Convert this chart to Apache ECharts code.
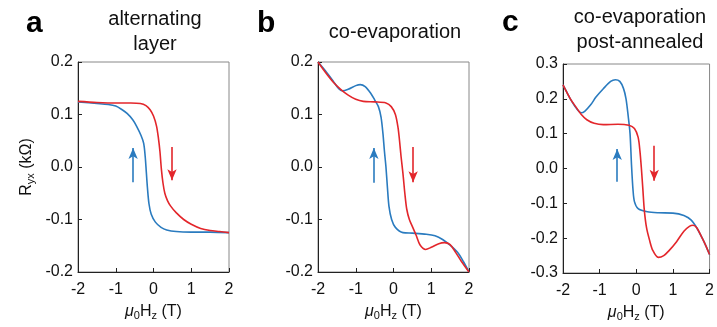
<!DOCTYPE html>
<html><head><meta charset="utf-8">
<script src="https://cdn.jsdelivr.net/npm/echarts@6/dist/echarts.min.js"></script>
<style>html,body{margin:0;padding:0;background:#fff}#c{width:717px;height:327px}</style>
</head><body><div id="c"></div>
<script>
// ---- data ----
const panelLetters = ['a', 'b', 'c'];
const panelTitles = ['alternating\nlayer', 'co-evaporation', 'co-evaporation\npost-annealed'];
const xTicks = [-2, -1, 0, 1, 2];
const yRanges = [[-0.2, 0.2], [-0.2, 0.2], [-0.3, 0.3]];

const aBlue = [[-2,0.124],[-1.5,0.121],[-1.2,0.119],[-1.0,0.116],[-0.85,0.11],[-0.7,0.102],[-0.55,0.09],[-0.45,0.078],[-0.33,0.06],[-0.26,0.045],[-0.22,0.02],[-0.19,-0.01],[-0.16,-0.04],[-0.12,-0.07],[-0.06,-0.09],[0.05,-0.105],[0.2,-0.115],[0.35,-0.12],[0.6,-0.123],[1.0,-0.124],[1.5,-0.124],[2.0,-0.125]];
const aRed = [[-2,0.125],[-1.5,0.123],[-1.0,0.122],[-0.6,0.122],[-0.35,0.121],[-0.2,0.117],[-0.09,0.109],[0.0,0.097],[0.08,0.078],[0.13,0.055],[0.17,0.03],[0.21,-0.005],[0.25,-0.03],[0.30,-0.05],[0.37,-0.064],[0.45,-0.074],[0.6,-0.087],[0.8,-0.1],[1.0,-0.109],[1.25,-0.117],[1.5,-0.121],[1.75,-0.123],[2.0,-0.125]];

const bBlue = [[-2,0.2],[-1.8,0.183],[-1.6,0.164],[-1.45,0.149],[-1.35,0.145],[-1.2,0.148],[-1.0,0.155],[-0.88,0.157],[-0.75,0.153],[-0.6,0.14],[-0.5,0.128],[-0.4,0.115],[-0.33,0.095],[-0.28,0.064],[-0.24,0.03],[-0.2,0.0],[-0.16,-0.04],[-0.12,-0.075],[-0.05,-0.1],[0.05,-0.115],[0.25,-0.125],[0.5,-0.126],[0.87,-0.128],[1.1,-0.131],[1.3,-0.138],[1.5,-0.149],[1.7,-0.163],[1.85,-0.18],[2.0,-0.2]];
const bRed = [[-2,0.2],[-1.8,0.18],[-1.6,0.162],[-1.4,0.148],[-1.2,0.137],[-1.0,0.129],[-0.8,0.125],[-0.5,0.124],[-0.2,0.122],[-0.06,0.115],[0.05,0.1],[0.12,0.075],[0.16,0.05],[0.2,0.02],[0.25,-0.012],[0.3,-0.05],[0.35,-0.08],[0.42,-0.1],[0.51,-0.115],[0.6,-0.13],[0.7,-0.148],[0.85,-0.157],[1.0,-0.153],[1.2,-0.146],[1.35,-0.144],[1.5,-0.148],[1.65,-0.163],[1.8,-0.18],[2.0,-0.2]];

const cBlue = [[-2,0.24],[-1.9,0.22],[-1.8,0.2],[-1.65,0.175],[-1.5,0.16],[-1.4,0.165],[-1.25,0.182],[-1.1,0.205],[-0.9,0.229],[-0.7,0.25],[-0.57,0.255],[-0.45,0.25],[-0.35,0.23],[-0.28,0.2],[-0.22,0.15],[-0.17,0.1],[-0.13,0.01],[-0.09,-0.06],[-0.05,-0.095],[0.05,-0.115],[0.3,-0.124],[0.6,-0.127],[1.0,-0.128],[1.3,-0.135],[1.5,-0.148],[1.65,-0.17],[1.8,-0.2],[1.9,-0.222],[2.0,-0.247]];
const cRed = [[-2,0.24],[-1.8,0.2],[-1.65,0.177],[-1.5,0.155],[-1.35,0.14],[-1.15,0.13],[-0.9,0.126],[-0.5,0.127],[-0.2,0.124],[-0.05,0.115],[0.05,0.09],[0.1,0.05],[0.14,0.0],[0.18,-0.06],[0.22,-0.12],[0.28,-0.17],[0.36,-0.205],[0.45,-0.235],[0.6,-0.255],[0.75,-0.25],[0.9,-0.235],[1.1,-0.21],[1.3,-0.18],[1.45,-0.166],[1.55,-0.163],[1.65,-0.17],[1.8,-0.2],[1.9,-0.222],[2.0,-0.247]];

// arrows: [x, yTail, yHead]
const blueArrows = [[-0.54,-0.029,0.036],[-0.52,-0.03,0.036],[-0.52,-0.038,0.056]];
const redArrows = [[0.49,0.038,-0.025],[0.52,0.038,-0.029],[0.49,0.065,-0.035]];

const blueSeries = [aBlue, bBlue, cBlue];
const redSeries = [aRed, bRed, cRed];

// ---- layout ----
const BLUE = '#2a7bbf', RED = '#e3262b';
const FONT = 'Liberation Sans, Arial, sans-serif';
const grids = [
  {left: 78, top: 62, width: 151, height: 210},
  {left: 318, top: 62, width: 151, height: 210},
  {left: 563, top: 64, width: 151, height: 211}
];

const option = {
  animation: false,
  backgroundColor: '#fff',
  grid: grids.map(g => Object.assign({show: true, borderColor: '#888', borderWidth: 1, backgroundColor: 'transparent'}, g)),
  xAxis: grids.map((g, i) => ({
    type: 'value', gridIndex: i, min: xTicks[0], max: xTicks[xTicks.length - 1], interval: 1,
    axisLine: {show: true, onZero: false, lineStyle: {color: '#222', width: 1}},
    axisTick: {show: true, inside: true, length: 4, lineStyle: {color: '#222'}},
    splitLine: {show: false},
    axisLabel: {color: '#111', fontSize: 16, fontFamily: FONT, margin: 10},
    name: '{i|μ}{s|0}H{s|z} (T)', nameLocation: 'middle', nameGap: 30,
    nameTextStyle: {color: '#111', fontSize: 16, fontFamily: FONT,
      rich: {i: {fontStyle: 'italic', fontSize: 16, fontFamily: FONT, color: '#111'},
             s: {fontSize: 11, fontFamily: FONT, color: '#111', verticalAlign: 'bottom', padding: [8, 0, 0, 0]}}}
  })),
  yAxis: grids.map((g, i) => ({
    type: 'value', gridIndex: i, min: yRanges[i][0], max: yRanges[i][1], interval: 0.1,
    axisLine: {show: true, onZero: false, lineStyle: {color: '#222', width: 1}},
    axisTick: {show: true, inside: true, length: 4, lineStyle: {color: '#222'}},
    splitLine: {show: false},
    axisLabel: {color: '#111', fontSize: 16, fontFamily: FONT, margin: 5, formatter: v => v.toFixed(1)},
    name: i === 0 ? 'R{s|yx} (kΩ)' : '', nameLocation: 'middle', nameGap: 42,
    nameTextStyle: {color: '#111', fontSize: 16, fontFamily: FONT,
      rich: {s: {fontSize: 11, fontFamily: FONT, color: '#111', verticalAlign: 'bottom', padding: [8, 0, 0, 0]}}}
  })),
  series: [],
  graphic: []
};

for (let i = 0; i < 3; i++) {
  option.series.push({
    type: 'line', xAxisIndex: i, yAxisIndex: i, data: blueSeries[i], smooth: 0.3,
    showSymbol: false, lineStyle: {color: BLUE, width: 1.6}, z: 3,
    markLine: {silent: true, symbol: ['none', 'arrow'], symbolSize: [7, 11], label: {show: false},
      lineStyle: {color: BLUE, width: 1.6, type: 'solid'},
      data: [[{coord: [blueArrows[i][0], blueArrows[i][1]]}, {coord: [blueArrows[i][0], blueArrows[i][2]]}]]}
  });
  option.series.push({
    type: 'line', xAxisIndex: i, yAxisIndex: i, data: redSeries[i], smooth: 0.3,
    showSymbol: false, lineStyle: {color: RED, width: 1.6}, z: 4,
    markLine: {silent: true, symbol: ['none', 'arrow'], symbolSize: [7, 11], label: {show: false},
      lineStyle: {color: RED, width: 1.6, type: 'solid'},
      data: [[{coord: [redArrows[i][0], redArrows[i][1]]}, {coord: [redArrows[i][0], redArrows[i][2]]}]]}
  });
}

const letterPos = [[35, 26], [266, 26], [511, 25]];
const titlePos = [[155, 32], [395, 32], [640, 30]];
for (let i = 0; i < 3; i++) {
  option.graphic.push({type: 'text', left: letterPos[i][0] - 9, top: letterPos[i][1] - 17,
    style: {text: panelLetters[i], fontSize: 30, fontWeight: 'bold', fontFamily: FONT, fill: '#000'}});
  option.graphic.push({type: 'text', x: titlePos[i][0], y: titlePos[i][1],
    style: {text: panelTitles[i], fontSize: 20, lineHeight: 25, fontFamily: FONT, fill: '#111',
      align: 'center', verticalAlign: 'middle'}});
}

const chart = echarts.init(document.getElementById('c'), null, {renderer: 'canvas'});
chart.setOption(option);
</script>
</body></html>
